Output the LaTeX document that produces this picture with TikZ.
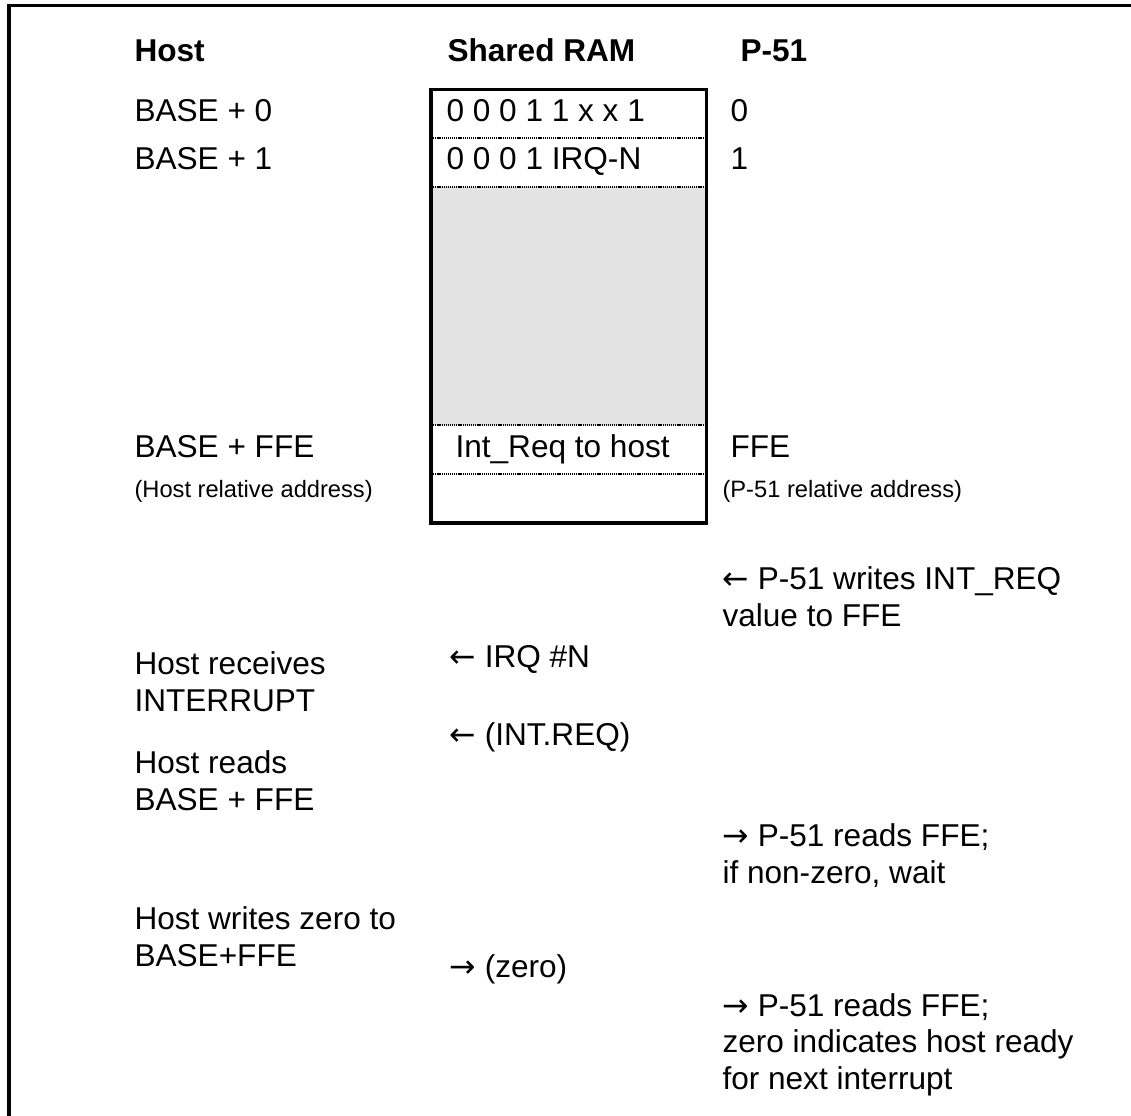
\documentclass[tikz,border=0pt]{standalone}
\usepackage{fontspec}
\setmainfont{Liberation Sans}
\newfontfamily\arrowfont{DejaVu Sans}
\newcommand{\larr}{{\arrowfont ←}}
\newcommand{\rarr}{{\arrowfont →}}
\usetikzlibrary{positioning}
\definecolor{ramgray}{HTML}{E3E3E3}

\begin{document}
\begin{tikzpicture}[
  x=0.38pt, y=-0.38pt,
  txt/.style={inner sep=0pt, anchor=base west, align=left, font=\fontsize{12}{13.7}\selectfont},
  head/.style={txt, font=\fontsize{12}{13.7}\selectfont\bfseries},
  note/.style={txt, font=\fontsize{9}{11}\selectfont},
  frame/.style={line width=1.15pt},
  ramframe/.style={line width=1.15pt},
  rowsep/.style={line width=0.45pt, dash pattern=on 0.45pt off 0.35pt}
]
\useasboundingbox (0,0) rectangle (1131,1116);
% outer frame: only top and left edges fall inside the page
\draw[frame] (9,1125) -- (9,5.5) -- (1140,5.5);
% shared RAM block: grey filler between row 1 and row FFE, dotted row separators
\coordinate (ramNW) at (431,89.5);
\coordinate (ramSE) at (706.5,523);
\fill[ramgray] (ramNW |- 0,187) rectangle (ramSE |- 0,425);
\foreach \y in {138,187,425,474}
  \draw[rowsep] (ramNW |- 0,\y) -- (ramSE |- 0,\y);
\draw[ramframe] (ramNW) rectangle (ramSE);
% column heads
\node[head] (hhost) at (134,62) {Host};
\node[head] (hram) at (447,62) {Shared RAM};
\node[head] (hp51) at (740,62) {P-51};
% addresses and contents
\node[txt] (hbase0) at (134,122) {BASE + 0};
\node[txt] (hbase1) at (134,170) {BASE + 1};
\node[txt] (hbaseffe) at (134,457) {BASE + FFE};
\node[note] (hrel) at (134,497) {(Host relative address)};
\node[txt] (row0) at (446,122) {0 0 0 1 1 x x 1};
\node[txt] (row1) at (446,170) {0 0 0 1 IRQ-N};
\node[txt] (rowffe) at (455,457) {Int\_Req to host};
\node[txt] (p0) at (730,122) {0};
\node[txt] (p1) at (730,170) {1};
\node[txt] (pffe) at (730,457) {FFE};
\node[note] (prel) at (722,497) {(P-51 relative address)};
% handshake sequence (multi-line nodes sit on their last line)
\node[txt] (pwrite) at (722,626) {\larr\ P-51 writes INT\_REQ\\value to FFE};
\node[txt] (irq) at (449,667) {\larr\ IRQ \#N};
\node[txt] (hrecv) at (134,711) {Host receives\\INTERRUPT};
\node[txt] (intreq) at (449,745) {\larr\ (INT.REQ)};
\node[txt] (hread) at (134,810) {Host reads\\BASE + FFE};
\node[txt] (pread) at (722,883) {\rarr\ P-51 reads FFE;\\if non-zero, wait};
\node[txt] (hwrite) at (134,966) {Host writes zero to\\BASE+FFE};
\node[txt] (zero) at (449,977) {\rarr\ (zero)};
\node[txt] (pready) at (722,1089) {\rarr\ P-51 reads FFE;\\zero indicates host ready\\for next interrupt};
\end{tikzpicture}
\end{document}
